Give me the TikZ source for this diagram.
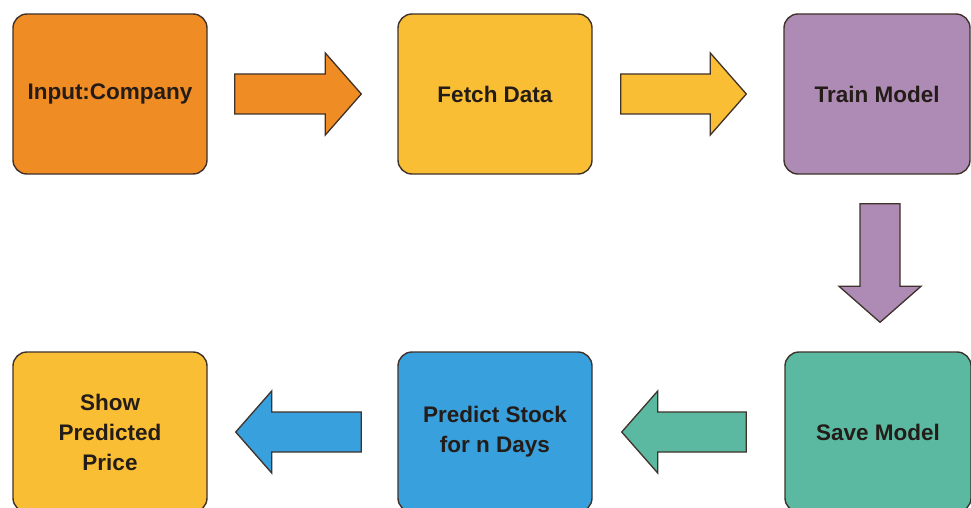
\documentclass[tikz,border=0pt]{standalone}
\usepackage{fontspec}
\setmainfont{Liberation Sans}
\usetikzlibrary{calc}
\definecolor{cOrange}{RGB}{240,140,36}
\definecolor{cYellow}{RGB}{249,190,52}
\definecolor{cPurple}{RGB}{174,139,181}
\definecolor{cGreen}{RGB}{90,185,160}
\definecolor{cBlue}{RGB}{56,160,220}
\definecolor{cEdge}{RGB}{62,50,42}
\definecolor{cText}{RGB}{35,28,24}
\tikzset{
  box/.style={draw=cEdge, line width=1.4pt, rounded corners=14pt, minimum width=194pt, minimum height=160pt,
    align=center, font=\bfseries\fontsize{22.5}{30}\selectfont, text=cText, inner sep=0pt},
  arrowline/.style={draw=cEdge, line width=1.3pt, line join=miter},
}
\newcommand{\blockarr}[4]{%
  \coordinate (#3hb) at ($(#2)!36pt!(#1)$);
  \draw[arrowline, fill=#4] ($(#1)!20pt!90:(#2)$) -- ($(#3hb)!20pt!-90:(#1)$) -- ($(#3hb)!41pt!-90:(#1)$) -- (#2)
    -- ($(#3hb)!41pt!90:(#1)$) -- ($(#3hb)!20pt!90:(#1)$) -- ($(#1)!20pt!-90:(#2)$) -- cycle;}
\begin{document}
\begin{tikzpicture}[x=1pt,y=-1pt]
\useasboundingbox (0,0) rectangle (971,508);
\fill[white] (0,0) rectangle (971,508);
\node[box, fill=cOrange] (b1) at (110,94) {Input:Company};
\node[box, fill=cYellow] (b2) at (495,94) {Fetch Data};
\node[box, fill=cPurple, minimum width=186pt] (b3) at (877,94) {Train Model};
\node[box, fill=cGreen, minimum width=186pt] (b4) at (878,432) {Save Model};
\node[box, fill=cBlue] (b5) at (495,432) {Predict Stock\\for n Days};
\node[box, fill=cYellow] (b6) at (110,432) {Show\\Predicted\\Price};
% arrows
\coordinate (t1) at ($(b1.east)+(27,0)$);
\coordinate (h1) at ($(b2.west)+(-36,0)$);
\blockarr{t1}{h1}{a1}{cOrange}
\coordinate (t2) at ($(b2.east)+(28,0)$);
\coordinate (h2) at ($(b3.west)+(-37,0)$);
\blockarr{t2}{h2}{a2}{cYellow}
\coordinate (t3) at ($(b3.south)+(3,29)$);
\coordinate (h3) at ($(b4.north)+(2,-29)$);
\blockarr{t3}{h3}{a3}{cPurple}
\coordinate (t4) at ($(b4.west)+(-38,0)$);
\coordinate (h4) at ($(b5.east)+(29,0)$);
\blockarr{t4}{h4}{a4}{cGreen}
\coordinate (t5) at ($(b5.west)+(-36,0)$);
\coordinate (h5) at ($(b6.east)+(28,0)$);
\blockarr{t5}{h5}{a5}{cBlue}
\end{tikzpicture}
\end{document}
